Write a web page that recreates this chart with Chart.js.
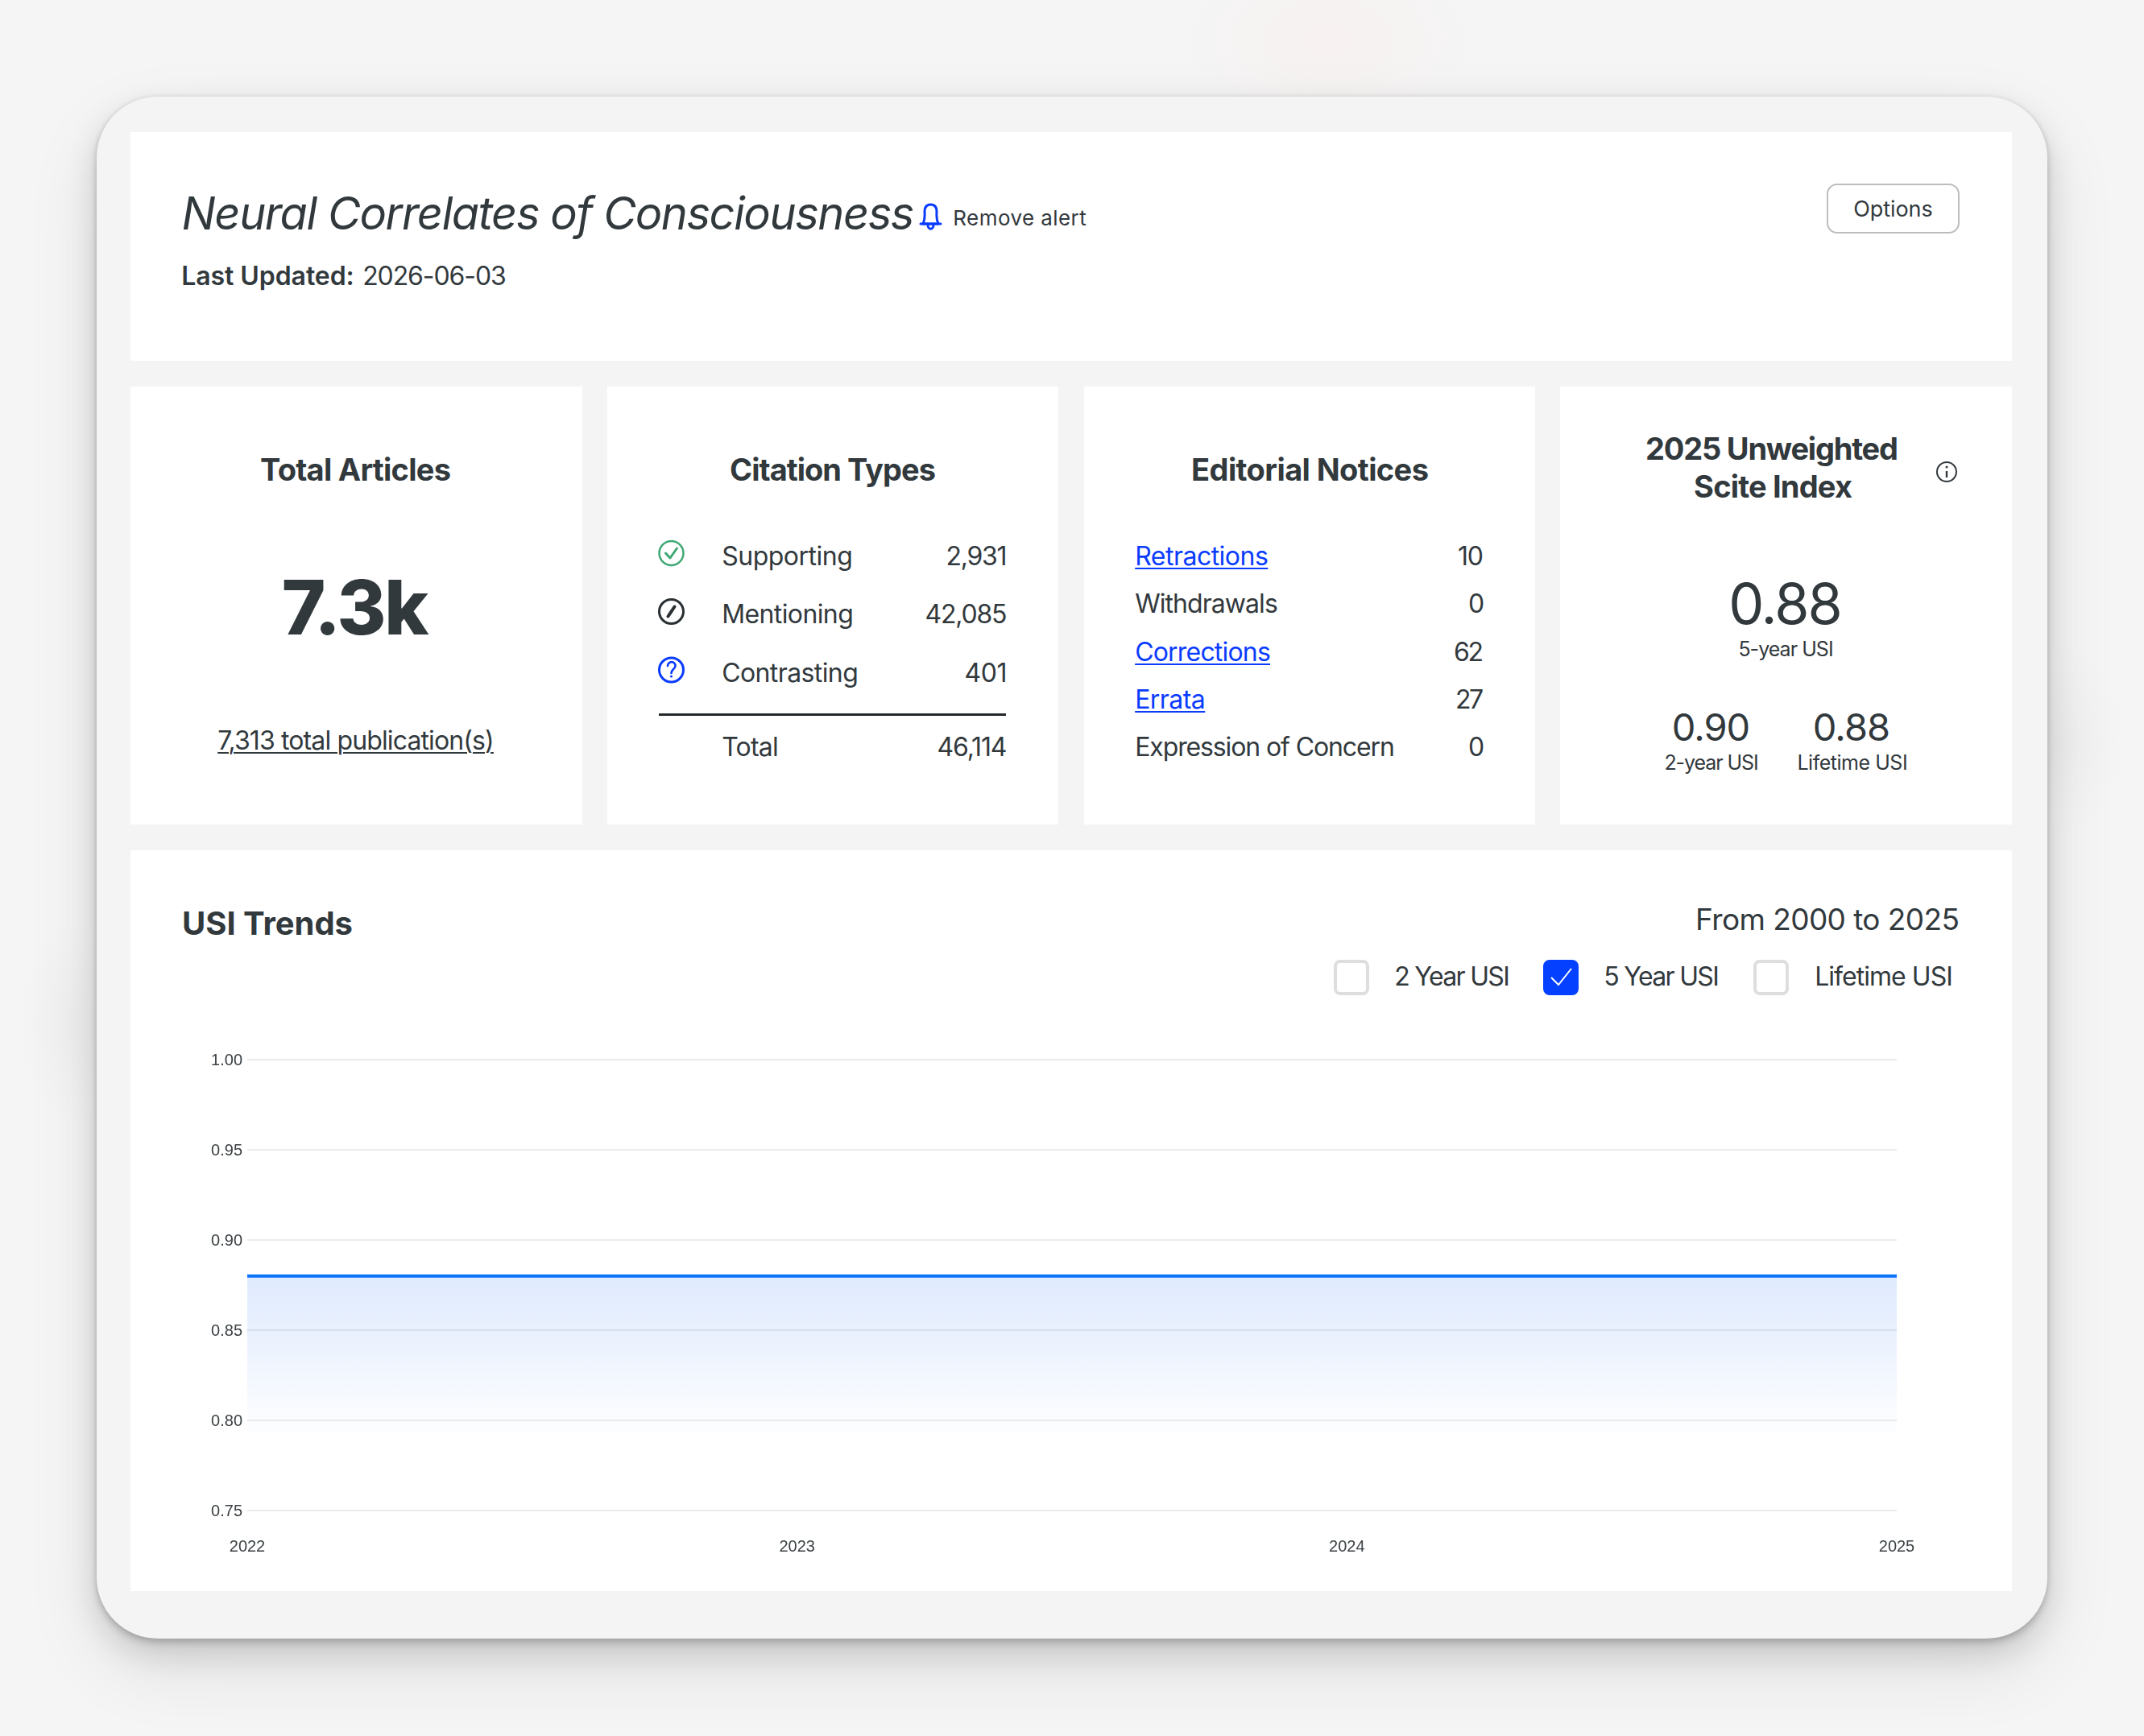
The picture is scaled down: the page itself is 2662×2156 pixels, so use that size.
<!DOCTYPE html>
<html><head><meta charset="utf-8">
<script src="https://cdn.jsdelivr.net/npm/chart.js@4/dist/chart.umd.min.js"></script>
<style>
html,body{margin:0;padding:0;width:2662px;height:2156px;overflow:hidden;background:#f5f5f5;}
body{position:relative;font-family:Inter,"Noto Sans",sans-serif;color:#32393d;}
#bg{position:absolute;inset:0;background:
 radial-gradient(ellipse 190px 120px at 1650px 50px,rgba(255,225,225,.22),rgba(255,225,225,0) 100%),
 radial-gradient(ellipse 70px 120px at 90px 1270px,rgba(225,225,225,.25),rgba(225,225,225,0) 100%),
 radial-gradient(ellipse 70px 110px at 2570px 920px,rgba(225,225,225,.25),rgba(225,225,225,0) 100%);}
#device{position:absolute;left:120px;top:120px;width:2422px;height:1915px;background:#f4f4f4;border-radius:76px;
 box-shadow:0 5px 10px rgba(0,0,0,.18),0 18px 40px rgba(0,0,0,.14),0 36px 95px rgba(0,0,0,.09),0 0 6px rgba(0,0,0,.07);}
.panel{position:absolute;background:#fff;}
.t{position:absolute;white-space:nowrap;line-height:1;}
a.t{color:#0a3cff;text-decoration:underline;text-underline-offset:3px;text-decoration-thickness:2px;}
svg{position:absolute;overflow:visible;}
canvas{position:absolute;left:200px;top:1290px;}
.box{position:absolute;width:44px;height:44px;box-sizing:border-box;border:4px solid #dedede;border-radius:8px;background:#fff;}
.box.on{background:#0440ff;border-color:#0440ff;}
</style></head><body>
<div id="bg"></div><div id="device"></div>
<div class="panel" style="left:162px;top:164px;width:2336px;height:284px"></div>
<div class="panel" style="left:162px;top:480px;width:561px;height:544px"></div>
<div class="panel" style="left:754px;top:480px;width:560px;height:544px"></div>
<div class="panel" style="left:1346px;top:480px;width:560px;height:544px"></div>
<div class="panel" style="left:1937px;top:480px;width:561px;height:544px"></div>
<div class="panel" style="left:162px;top:1056px;width:2336px;height:920px"></div>
<div style="position:absolute;left:2268px;top:228px;width:165px;height:62px;box-sizing:border-box;border:2.5px solid #bdbdbd;border-radius:13px;background:#fff"></div>
<canvas id="chart" width="2200" height="660"></canvas>
<div id="ui"></div>
<script>
// ---- data ----
const years = ["2022", "2023", "2024", "2025"];
const usi5Year = [0.88, 0.88, 0.88, 0.88];
const yMin = 0.75, yMax = 1.00, yStep = 0.05;
const citationLabels = ["Supporting", "Mentioning", "Contrasting", "Total"];
const citationValues = ["2,931", "42,085", "401", "46,114"];
const noticeLabels = ["Retractions", "Withdrawals", "Corrections", "Errata", "Expression of Concern"];
const noticeValues = ["10", "0", "62", "27", "0"];
const noticeLinked = [true, false, true, true, false];
const legendLabels = ["2 Year USI", "5 Year USI", "Lifetime USI"];
const usiMain = "0.88", usiTwo = "0.90", usiLife = "0.88";

// ---- text helper: places by baseline, fits letter-spacing to a target width ----
const ui = document.getElementById('ui');
function put(text, o){
  const e = document.createElement(o.link ? 'a' : 'span');
  e.className = 't'; e.textContent = text;
  e.style.fontSize = o.size + 'px';
  e.style.fontWeight = o.weight || 400;
  if (o.italic) e.style.fontStyle = 'italic';
  if (o.under) { e.style.textDecoration='underline'; e.style.textUnderlineOffset='3px'; e.style.textDecorationThickness='2px'; }
  ui.appendChild(e);
  const w0 = e.getBoundingClientRect().width;
  const bear = o.x !== undefined ? 0.025 * o.size : 0;
  const target = o.w ? o.w + 2 * bear : w0;
  if (o.w && text.length > 1) e.style.letterSpacing = ((target - w0) / (text.length - 1)) + 'px';
  const left = o.x !== undefined ? o.x - bear : o.r - target;
  e.style.left = left + 'px';
  e.style.top = (o.base - 0.8635 * o.size) + 'px';
  return e;
}

// header
put("Neural Correlates of Consciousness",{x:227,base:285,size:56,w:907,italic:true});
put("Remove alert",{x:1184,base:280,size:26,w:164});
put("Last Updated:",{x:226,base:355,size:32,w:213,weight:600});
put("2026-06-03",{x:451,base:355,size:32,w:177});
put("Options",{x:2302,base:269,size:27,w:97});

// total articles
put("Total Articles",{x:324,base:597,size:38,w:235,weight:700});
put("7.3k",{x:352,base:788,size:93,w:178,weight:800});
put("7,313 total publication(s)",{x:271,base:932,size:32,w:342,under:true});

// citation types
put("Citation Types",{x:907,base:597,size:38,w:254,weight:700});
const citeBase=[703,775,848,940], citeLW=[161,162,168,69], citeVW=[76,102,53,87];
citationLabels.forEach((l,i)=>{
  put(l,{x:897,base:citeBase[i],size:32,w:citeLW[i]});
  put(citationValues[i],{r:1250.5,base:citeBase[i],size:32,w:citeVW[i]});
});

// editorial notices
put("Editorial Notices",{x:1480,base:597,size:38,w:293,weight:700});
const notBase=[703,762,822,881,940], notLW=[164,176,167,86,321], notVW=[32,19,37,35,19];
noticeLabels.forEach((l,i)=>{
  put(l,{x:1410,base:notBase[i],size:32,w:notLW[i],link:noticeLinked[i]});
  put(noticeValues[i],{r:1842,base:notBase[i],size:32,w:notVW[i]});
});

// USI card
put("2025 Unweighted",{x:2044,base:571,size:38,w:312,weight:700});
put("Scite Index",{x:2104,base:618,size:38,w:195,weight:700});
put(usiMain,{x:2148,base:775,size:70,w:138});
put("5-year USI",{x:2159,base:816,size:25,w:117});
put(usiTwo,{x:2077,base:920,size:47,w:95});
put(usiLife,{x:2252,base:920,size:47,w:94});
put("2-year USI",{x:2067,base:957,size:25,w:116});
put("Lifetime USI",{x:2232,base:957,size:25,w:136});

// trends header
put("USI Trends",{x:227,base:1162,size:40,w:210,weight:700});
put("From 2000 to 2025",{x:2106,base:1155,size:37,w:326});
const legX=[1732,1992,2254], legW=[142,142,170];
legendLabels.forEach((l,i)=>put(l,{x:legX[i],base:1225,size:32,w:legW[i]}));
[[1656,0],[1916,1],[2177,0]].forEach(([x,on])=>{
  const b=document.createElement('div');b.className='box'+(on?' on':'');
  b.style.left=x+'px';b.style.top='1192px';ui.appendChild(b);
});

// icons & rule
ui.insertAdjacentHTML('beforeend',`
<div style="position:absolute;left:818px;top:886px;width:431px;height:3px;background:#23282b"></div>
<svg style="left:0;top:0" width="2662" height="2156" fill="none">
  <g stroke="#0a3cff" stroke-width="3" stroke-linejoin="round" stroke-linecap="round">
    <path d="M1146 278 C1149 272 1148 267 1148 263 C1148 257 1151 254 1155.5 254 C1160 254 1163 257 1163 263 C1163 267 1162 272 1165 278 Z"/>
    <path d="M1143 278 H1168"/><path d="M1152 279 C1152 286 1159 286 1159 279"/>
  </g>
  <circle cx="833.5" cy="687" r="15" stroke="#3fa874" stroke-width="2.5"/>
  <path d="M826.5 687 L832 693 L840.5 681" stroke="#3fa874" stroke-width="3" stroke-linecap="round" stroke-linejoin="round"/>
  <circle cx="833.5" cy="759.5" r="15" stroke="#2a3033" stroke-width="3"/>
  <path d="M829.5 765.5 L837.5 753.5" stroke="#2a3033" stroke-width="4" stroke-linecap="round"/>
  <circle cx="833.5" cy="832" r="15" stroke="#0a3cff" stroke-width="3"/>
  <path d="M829 827 C829.5 820.5 838.5 820.5 838.5 827 C838.5 831 833.5 831 833.5 836" stroke="#0a3cff" stroke-width="2.6" stroke-linecap="round"/>
  <circle cx="833.5" cy="840" r="1.6" fill="#0a3cff"/>
  <circle cx="2417" cy="586" r="12" stroke="#32393d" stroke-width="2"/>
  <path d="M2417 585 V593" stroke="#32393d" stroke-width="2.4"/>
  <circle cx="2417" cy="580" r="1.5" fill="#32393d"/>
  <path d="M1926 1214 L1935 1223 L1951 1203" stroke="#fff" stroke-width="2"/>
</svg>`);

// ---- chart ----
const ctx = document.getElementById('chart').getContext('2d');
new Chart(ctx,{
  type:'line',
  data:{labels:years,datasets:[{
    label:'5 Year USI',data:usi5Year,
    borderColor:'#0a73fa',borderWidth:4,pointRadius:0,tension:0,fill:'start',
    backgroundColor:(c)=>{
      const a=c.chart.chartArea; if(!a) return 'transparent';
      const h=a.bottom-a.top, g=c.chart.ctx.createLinearGradient(0,a.top+0.48*h,0,a.top+0.84*h);
      g.addColorStop(0,'rgba(10,95,245,0.135)');
      g.addColorStop(1,'rgba(10,95,245,0)');
      return g;
    }
  }]},
  options:{
    responsive:false,devicePixelRatio:1,animation:false,
    layout:{padding:{left:0,top:26,right:45,bottom:0}},
    plugins:{legend:{display:false},tooltip:{enabled:false}},
    scales:{
      x:{
        grid:{display:false},border:{display:false},
        ticks:{font:{family:'"Liberation Sans",Arial,sans-serif',size:20},color:'#3b4144',padding:25,maxRotation:0,autoSkip:false},
        afterFit:(s)=>{s.height=74;s.paddingLeft=0;s.paddingRight=0;}
      },
      y:{
        min:yMin,max:yMax,
        grid:{color:'#ebebeb',lineWidth:2,drawTicks:false},border:{display:false},
        ticks:{stepSize:yStep,callback:(v)=>v.toFixed(2),font:{family:'"Liberation Sans",Arial,sans-serif',size:20},color:'#3b4144',padding:6,labelOffset:1.5},
        afterFit:(s)=>{s.width=107;s.paddingTop=0;s.paddingBottom=0;}
      }
    }
  }
});
</script>
</body></html>
